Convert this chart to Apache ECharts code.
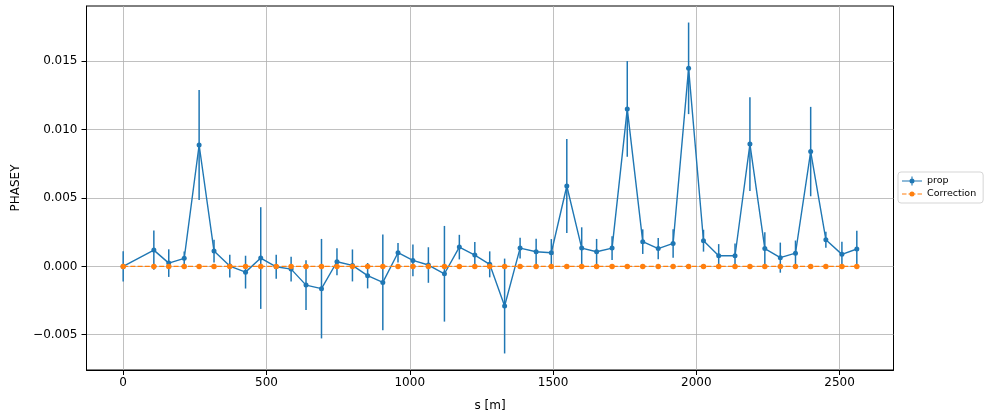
<!DOCTYPE html>
<html>
<head>
<meta charset="utf-8">
<script src="https://cdn.jsdelivr.net/npm/echarts@6/dist/echarts.min.js"></script>
<style>
  html, body { margin: 0; padding: 0; background: #fff; }
  #chart { width: 988px; height: 417px; }
</style>
</head>
<body>
<div id="chart"></div>
<script>
  // s position [m]
  const sPos = [0, 107, 159, 213, 265, 317, 372, 427, 480, 534, 586, 638, 692, 746, 800, 853,
    906, 959, 1011, 1065, 1121, 1173, 1227, 1279, 1331, 1385, 1441, 1494, 1548, 1600, 1652, 1706,
    1759, 1813, 1867, 1919, 1973, 2025, 2078, 2135, 2187, 2239, 2293, 2346, 2399, 2452, 2508, 2560];
  // measured PHASEY
  const propVals = [0, 0.00119, 0.00024, 0.00059, 0.00888, 0.00112, 0.00002, -0.00042, 0.00061, -0.00003,
    -0.0002, -0.00137, -0.00163, 0.00034, 0.00007, -0.00068, -0.00117, 0.001, 0.00044, 0.0001,
    -0.00054, 0.00141, 0.00083, 0.00015, -0.0029, 0.00134, 0.00107, 0.001, 0.00588, 0.00134,
    0.00107, 0.00134, 0.01152, 0.00181, 0.0013, 0.00168, 0.01449, 0.00188, 0.00078, 0.00078,
    0.00895, 0.0013, 0.00064, 0.00097, 0.0084, 0.00195, 0.00088, 0.00127];
  // error bars (half width)
  const propErr = [0.00111, 0.00144, 0.00101, 0.0005, 0.00403, 0.00083, 0.00084, 0.0012, 0.00372, 0.00088,
    0.0009, 0.00182, 0.00364, 0.00099, 0.00117, 0.00093, 0.00351, 0.00072, 0.00116, 0.0013,
    0.0035, 0.0009, 0.00095, 0.00095, 0.00347, 0.00076, 0.00095, 0.001, 0.00344, 0.00152,
    0.00094, 0.00087, 0.0035, 0.0009, 0.00078, 0.00104, 0.00335, 0.0008, 0.00085, 0.0009,
    0.00343, 0.0012, 0.0011, 0.00092, 0.00327, 0.00059, 0.00093, 0.00134];
  // correction
  const corrVals = [0, 0, 0, 0, 0, 0, 0, 0, 0, 0, 0, 0, 0, 0, 0, 0,
    0, 0, 0, 0, 0, 0, 0, 0, 0, 0, 0, 0, 0, 0, 0, 0,
    0, 0, 0, 0, 0, 0, 0, 0, 0, 0, 0, 0, 0, 0, 0, 0];

  const blue = '#1f77b4', orange = '#ff7f0e';
  const font = 'DejaVu Sans';

  let myChart = echarts.init(document.getElementById('chart'));

  let propData = [], errData = [], corrData = [];
  for (let i = 0; i < sPos.length; i++) {
    propData.push([sPos[i], propVals[i]]);
    errData.push([sPos[i], propVals[i] - propErr[i], propVals[i] + propErr[i]]);
    corrData.push([sPos[i], corrVals[i]]);
  }

  const axisCommon = {
    axisLine: { show: true, onZero: false, lineStyle: { color: '#000', width: 1 } },
    axisTick: { show: true, inside: false, length: 5, lineStyle: { color: '#000', width: 1 } },
    splitLine: { show: true, showMinLine: false, showMaxLine: false, lineStyle: { color: '#b0b0b0', width: 0.8 } },
    nameTextStyle: { color: '#000', fontSize: 12, fontFamily: font }
  };

  let option = {
    animation: false,
    backgroundColor: '#fff',
    grid: {
      left: 86.5, right: 94.5, top: 6, bottom: 46.5,
      show: true, borderColor: '#000', borderWidth: 1
    },
    legend: {
      orient: 'vertical',
      left: 898, top: 172,
      padding: [4, 7, 4, 4],
      itemGap: 3,
      itemWidth: 20,
      itemHeight: 9,
      borderColor: '#d5d5d5', borderWidth: 1, borderRadius: 3,
      backgroundColor: '#fff',
      textStyle: { fontSize: 9.5, fontFamily: font, color: '#000' },
      data: [
        { name: 'prop', icon: 'path://M0,4h20v1.1H0z M9.45,0h1.1v9h-1.1z M10,2a2.5,2.5 0 1,1 0,5a2.5,2.5 0 1,1 0,-5z',
          itemStyle: { color: blue } },
        { name: 'Correction', icon: 'path://M0,0h0.01v0.01H0z M0,4h4.5v1.1H0z M6.5,4h7v1.1h-7z M15.5,4h4.5v1.1h-4.5z M10,2a2.5,2.5 0 1,1 0,5a2.5,2.5 0 1,1 0,-5z M19.99,8.99h0.01v0.01h-0.01z',
          itemStyle: { color: orange } }
      ]
    },
    xAxis: Object.assign({}, axisCommon, {
      type: 'value',
      min: -128, max: 2688,
      name: 's [m]', nameLocation: 'middle', nameGap: 30,
      axisLabel: {
        color: '#000', fontSize: 12, fontFamily: font, margin: 7,
        showMinLabel: false, showMaxLabel: false,
        formatter: function (v) { return String(Math.round(v)); }
      }
    }),
    yAxis: Object.assign({}, axisCommon, {
      type: 'value',
      min: -0.00758, max: 0.01905,
      name: 'PHASEY', nameLocation: 'middle', nameGap: 62,
      axisLabel: {
        color: '#000', fontSize: 12, fontFamily: font, margin: 9,
        showMinLabel: false, showMaxLabel: false,
        formatter: function (v) {
          if (Math.abs(v) < 1e-12) v = 0;
          return v.toFixed(3).replace('-', '\u2212');
        }
      }
    }),
    series: [
      {
        name: 'prop',
        type: 'custom',
        data: errData,
        encode: { x: 0, y: [1, 2] },
        renderItem: function (params, api) {
          let p1 = api.coord([api.value(0), api.value(1)]);
          let p2 = api.coord([api.value(0), api.value(2)]);
          return {
            type: 'line',
            shape: { x1: p1[0], y1: p1[1], x2: p2[0], y2: p2[1] },
            style: { stroke: blue, lineWidth: 1.5 }
          };
        },
        z: 2
      },
      {
        name: 'prop',
        type: 'line',
        data: propData,
        symbol: 'circle',
        symbolSize: 5,
        showSymbol: true,
        lineStyle: { color: blue, width: 1.4 },
        itemStyle: { color: blue },
        z: 3
      },
      {
        name: 'Correction',
        type: 'line',
        data: corrData,
        symbol: 'circle',
        symbolSize: 5.5,
        lineStyle: { color: orange, width: 1.4, type: [5, 2.2] },
        itemStyle: { color: orange },
        z: 4
      }
    ]
  };

  myChart.setOption(option);
</script>
</body>
</html>
